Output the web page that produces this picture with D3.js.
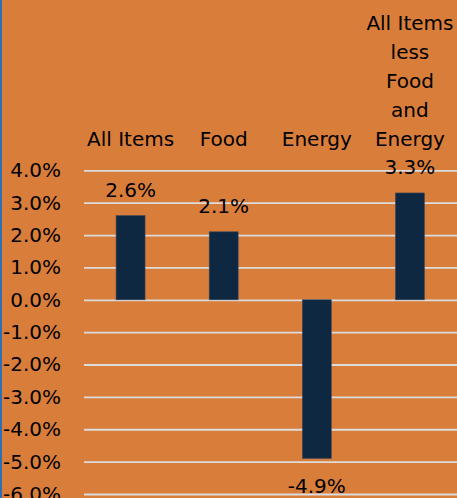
<!DOCTYPE html>
<html>
<head>
<meta charset="utf-8">
<script src="https://cdn.jsdelivr.net/npm/d3@7"></script>
<style>
  html, body { margin: 0; padding: 0; background: #D97D3B; overflow: hidden; }
  svg { display: block; }
  text { font-family: "DejaVu Sans", sans-serif; fill: #000; }
</style>
</head>
<body>
<script>
// CPI percent change by component
const categories = ["All Items", "Food", "Energy", "All Items less Food and Energy"];
const values = [2.6, 2.1, -4.9, 3.3];
const tickValues = [-6, -5, -4, -3, -2, -1, 0, 1, 2, 3, 4];
const yDomain = [-6, 4];

const W = 457, H = 498;
const plot = { left: 84, right: 456.5, top: 170.3, bottom: 494 };
const fontSize = 20;
const lineGap = 29;

const fmt = d => d.toFixed(1) + "%";

const svg = d3.select("body").append("svg")
  .attr("width", W).attr("height", H);

svg.append("rect").attr("width", W).attr("height", H).attr("fill", "#D97D3B");
// left frame edge
svg.append("rect").attr("x", 0).attr("y", 0).attr("width", 2).attr("height", H)
  .attr("fill", "#2F6FB3");

const x = d3.scaleBand()
  .domain(categories)
  .range([plot.left, plot.right])
  .paddingInner(0.689)
  .paddingOuter(0.3445);

const y = d3.scaleLinear().domain(yDomain).range([plot.bottom, plot.top]);

// horizontal gridlines
const grid = svg.append("g")
  .attr("transform", `translate(${plot.left},0)`)
  .call(d3.axisLeft(y).tickValues(tickValues).tickSize(-(W - plot.left)).tickFormat(""));
grid.select(".domain").remove();
grid.selectAll(".tick line").attr("stroke", "#DCDCDC").attr("stroke-width", 1.8);

// y tick labels
const yAxis = svg.append("g")
  .attr("transform", `translate(${plot.left},0)`)
  .call(d3.axisLeft(y).tickValues(tickValues).tickSize(0).tickPadding(23).tickFormat(fmt));
yAxis.select(".domain").remove();
yAxis.selectAll("text")
  .attr("font-size", fontSize)
  .attr("font-family", "DejaVu Sans, sans-serif")
  .attr("fill", "#000");

// bars
svg.append("g").selectAll("rect")
  .data(values)
  .join("rect")
  .attr("x", (d, i) => x(categories[i]))
  .attr("width", x.bandwidth())
  .attr("y", d => y(Math.max(0, d)))
  .attr("height", d => Math.abs(y(d) - y(0)))
  .attr("fill", "#0E2841")
  .attr("stroke", "#3B4A5C")
  .attr("stroke-width", 0.6);

// value labels
svg.append("g").selectAll("text")
  .data(values)
  .join("text")
  .attr("x", (d, i) => x(categories[i]) + x.bandwidth() / 2)
  .attr("y", d => d >= 0 ? y(d) - 19 : y(d) + 34.5)
  .attr("text-anchor", "middle")
  .attr("font-size", fontSize)
  .text(d => fmt(d));

// category labels, wrapped and bottom-aligned above the plot
const lastBaseline = 146;
const maxLineWidth = 90;
const measure = svg.append("text").attr("font-size", fontSize).attr("visibility", "hidden");
function wrap(label) {
  const words = label.split(" ");
  const lines = [];
  let cur = "";
  words.forEach(w => {
    const test = cur ? cur + " " + w : w;
    measure.text(test);
    if (cur && measure.node().getComputedTextLength() > maxLineWidth) {
      lines.push(cur);
      cur = w;
    } else {
      cur = test;
    }
  });
  if (cur) lines.push(cur);
  return lines;
}

const catG = svg.append("g");
categories.forEach(c => {
  const lines = wrap(c);
  const cx = x(c) + x.bandwidth() / 2;
  const t = catG.append("text")
    .attr("text-anchor", "middle")
    .attr("font-size", fontSize);
  lines.forEach((ln, j) => {
    t.append("tspan")
      .attr("x", cx)
      .attr("y", lastBaseline - (lines.length - 1 - j) * lineGap)
      .text(ln);
  });
});
measure.remove();
</script>
</body>
</html>
